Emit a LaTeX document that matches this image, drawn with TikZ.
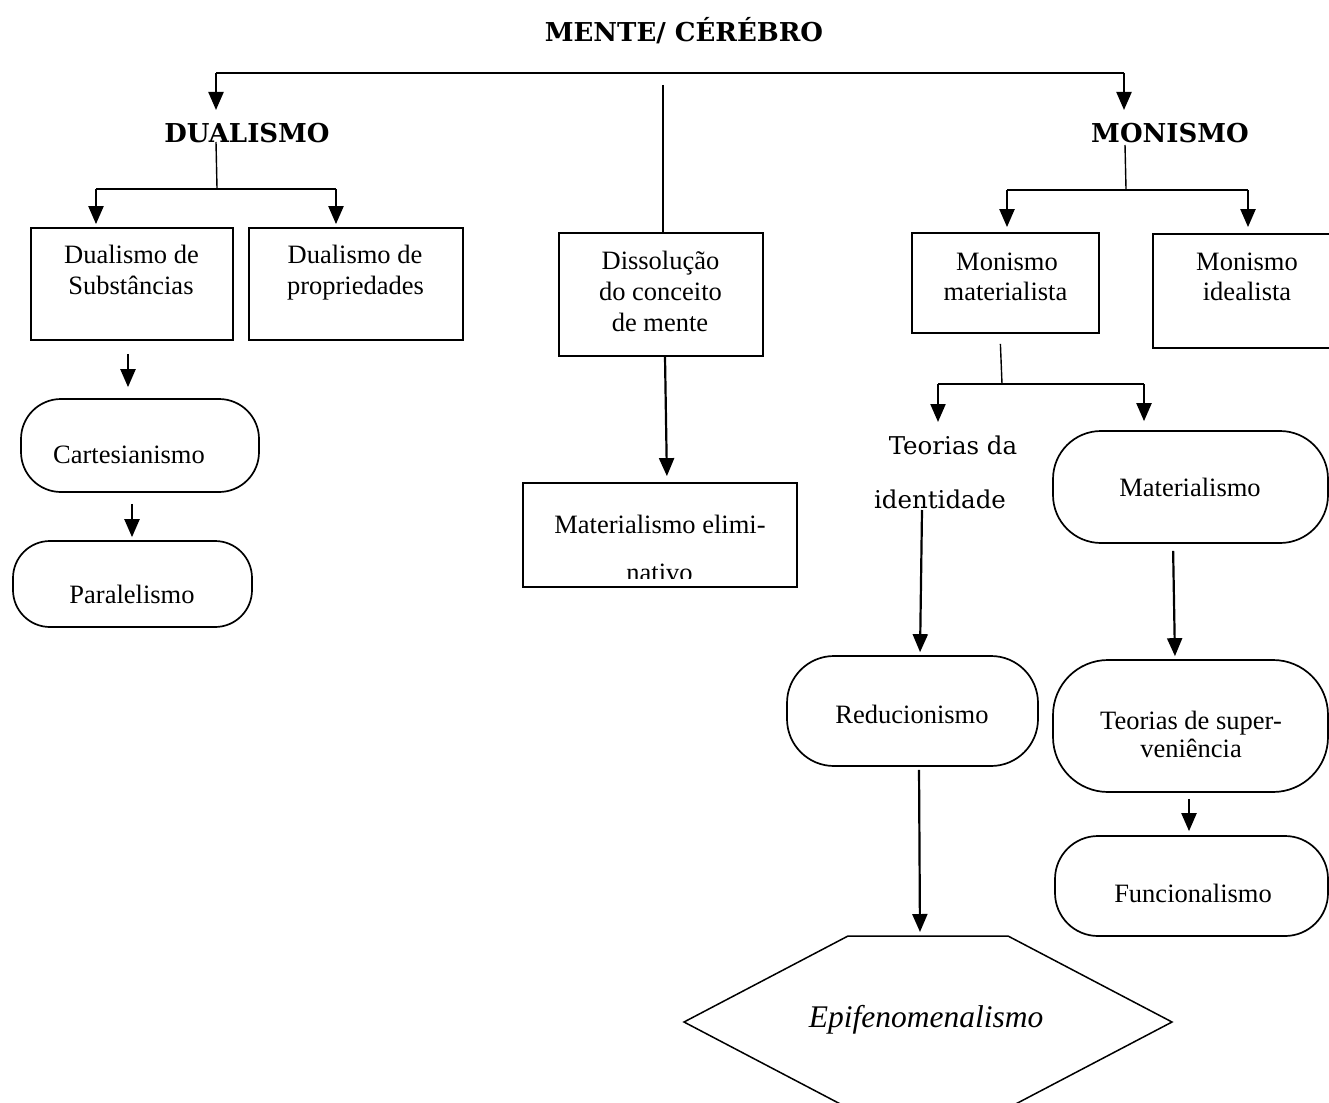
\documentclass[tikz,border=0pt]{standalone}
\usepackage{fontspec}
\setmainfont{Liberation Serif}
\newfontfamily\palfont{DejaVu Serif}
\usetikzlibrary{arrows.meta}
\begin{document}
\begin{tikzpicture}[x=1pt,y=-1pt,
  boxr/.style={draw, line width=1.8pt, inner sep=0pt},
  roundb/.style={draw, line width=1.7pt, inner sep=0pt, rounded corners=#1pt},
  txt/.style={anchor=base, inner sep=0pt, font=\fontsize{26.5}{31}\selectfont},
  head/.style={anchor=base, inner sep=0pt, font=\palfont\bfseries\fontsize{26}{30}\selectfont},
  pal/.style={anchor=base, inner sep=0pt, font=\palfont\fontsize{24.5}{30}\selectfont},
  conn/.style={line width=2.2pt},
  stem/.style={line width=1.4pt},
  arr/.style={line width=2.2pt, -{Triangle[width=15pt,length=18pt]}},
]
\useasboundingbox (0,0) rectangle (1329,1102);
\clip (0,0) rectangle (1329,1102);
\fill[white] (0,0) rectangle (1329,1102);

% boxes
\node[boxr, minimum width=202pt, minimum height=112pt] (ds) at (132,284) {};
\node[boxr, minimum width=214pt, minimum height=112pt] (dp) at (356,284) {};
\node[boxr, minimum width=204pt, minimum height=123pt] (dis) at (661,294.5) {};
\node[boxr, minimum width=274pt, minimum height=104pt] (me) at (660,535) {};
\node[boxr, minimum width=187pt, minimum height=100pt] (mm) at (1005.5,283) {};
\node[boxr, minimum width=188pt, minimum height=114pt] (mi) at (1247,291) {};
\node[roundb=40, minimum width=238pt, minimum height=93pt] (cart) at (140,445.5) {};
\node[roundb=37, minimum width=239pt, minimum height=86pt] (par) at (132.5,584) {};
\node[roundb=48, minimum width=275pt, minimum height=112pt] (mat) at (1190.5,487) {};
\node[roundb=47, minimum width=251pt, minimum height=110pt] (red) at (912.5,711) {};
\node[roundb=55, minimum width=275pt, minimum height=132pt] (sup) at (1190.5,726) {};
\node[roundb=43, minimum width=273pt, minimum height=100pt] (fun) at (1191.5,886) {};
\draw[line width=1.5pt] (848,936) -- (1008,936) -- (1172,1022) -- (1008,1108) -- (848,1108) -- (684,1022) -- cycle;
\coordinate (hexT) at (920,936);

% texts
\node[head] (title) at (684,42) {MENTE/ CÉRÉBRO};
\node[head] (dual) at (247,143) {DUALISMO};
\node[head] (mon) at (1170,143) {MONISMO};
\node[txt] (ds1) at (131.5,263) {Dualismo de};
\node[txt] (ds2) at (131,294) {Substâncias};
\node[txt] (dp1) at (355,263) {Dualismo de};
\node[txt] (dp2) at (355.5,294) {propriedades};
\node[txt] (dis1) at (660.5,269) {Dissolução};
\node[txt] (dis2) at (660.5,300) {do conceito};
\node[txt] (dis3) at (660,331) {de mente};
\node[txt] (me1) at (660,533) {Materialismo elimi-};
\begin{scope}
  \clip (523,483) rectangle (797,578);
  \node[txt] (me2) at (659.5,581) {nativo};
\end{scope}
\node[txt] (mm1) at (1007,270) {Monismo};
\node[txt] (mm2) at (1005.5,300) {materialista};
\node[txt] (mi1) at (1247,270) {Monismo};
\node[txt] (mi2) at (1247,300) {idealista};
\node[txt] (cart1) at (129,463) {Cartesianismo};
\node[txt] (par1) at (132,603) {Paralelismo};
\node[pal] (ti1) at (953,454) {Teorias da};
\node[pal] (ti2) at (940,508) {identidade};
\node[txt] (mat1) at (1190,496) {Materialismo};
\node[txt] (red1) at (912,723) {Reducionismo};
\node[txt] (sup1) at (1191,729) {Teorias de super-};
\node[txt] (sup2) at (1191,757) {veniência};
\node[txt] (fun1) at (1193,902) {Funcionalismo};
\node[txt, font=\itshape\fontsize{31.5}{36}\selectfont] (epi) at (926,1027) {Epifenomenalismo};

% top branch
\coordinate (tL) at (216,73);
\coordinate (tR) at (1124,73);
\coordinate (aD) at (216,110);
\coordinate (aM) at (1124,110);
\draw[conn] (tL) -- (tR);
\draw[arr] (tL) -- (aD);
\draw[arr] (tR) -- (aM);
\coordinate (mtop) at (663,85);
\draw[line width=2pt] (mtop) -- (mtop |- dis.north);

% dualismo branch
\coordinate (dS) at (216,142);
\coordinate (dB) at (217,188);
\draw[stem] (dS) -- (dB);
\coordinate (bA) at (96,189);
\coordinate (bB) at (336,189);
\draw[conn] (bA) -- (bB);
\draw[arr, shorten >=3pt] (bA) -- (bA |- ds.north);
\draw[arr, shorten >=3pt] (bB) -- (bB |- dp.north);
\draw[arr, shorten <=13pt, shorten >=11pt] ([xshift=-4pt]ds.south) -- ([xshift=-12pt]cart.north);
\draw[arr, shorten <=11pt, shorten >=3pt] ([xshift=-8pt]cart.south) -- ([xshift=-0.5pt]par.north);

% middle
\draw[arr, shorten >=6pt] ([xshift=4pt]dis.south) -- ([xshift=7pt]me.north);

% monismo branch
\coordinate (mS) at (1125,145);
\coordinate (mB) at (1126,189);
\draw[stem] (mS) -- (mB);
\coordinate (bC) at (1007,190);
\coordinate (bD) at (1248,190);
\draw[conn] (bC) -- (bD);
\draw[arr, shorten >=5pt] (bC) -- (bC |- mm.north);
\draw[arr, shorten >=6pt] (bD) -- (bD |- mi.north);

\coordinate (mmB) at (1002,384);
\draw[stem, shorten <=10pt] ([xshift=-5.5pt]mm.south) -- (mmB);
\coordinate (bE) at (938,384);
\coordinate (bF) at (1144,384);
\draw[conn] (bE) -- (bF);
\coordinate (aT) at (938,422);
\draw[arr] (bE) -- (aT);
\draw[arr, shorten >=9pt] (bF) -- (bF |- mat.north);

\draw[arr, shorten >=3pt] ([shift={(-18pt,-2pt)}]ti2.base) -- ([xshift=7.5pt]red.north);
\draw[arr, shorten <=3pt, shorten >=4pt] ([xshift=6.5pt]red.south) -- (hexT);
\draw[arr, shorten <=7pt, shorten >=3pt] ([xshift=-17.5pt]mat.south) -- ([xshift=-15.5pt]sup.north);
\draw[arr, shorten <=6pt, shorten >=4pt] ([xshift=-1.5pt]sup.south) -- ([xshift=-2.5pt]fun.north);
\end{tikzpicture}
\end{document}
